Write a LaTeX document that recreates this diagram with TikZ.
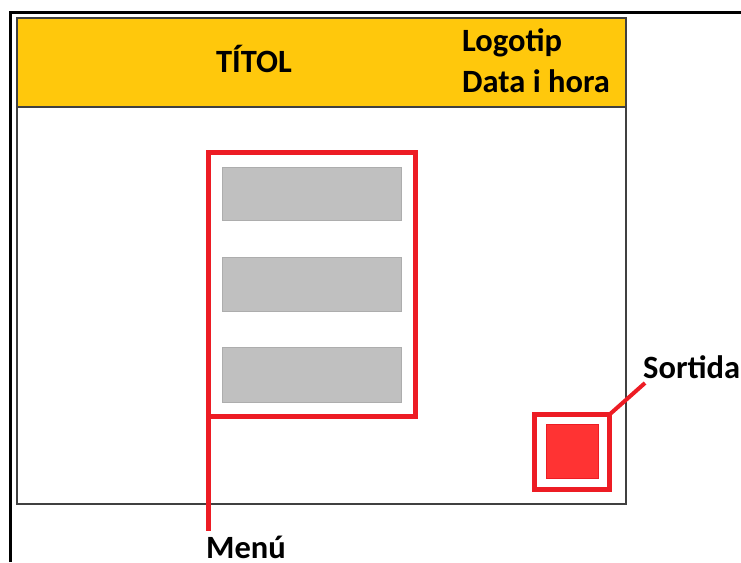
\documentclass[tikz,border=0pt]{standalone}
\usepackage{fontspec}
\setmainfont{Carlito}
\definecolor{hdryellow}{HTML}{FFC80C}
\definecolor{boxred}{HTML}{ED1C24}
\definecolor{exitfill}{HTML}{FF3333}
\definecolor{framegray}{HTML}{404040}
\definecolor{itemgray}{HTML}{C0C0C0}
\tikzset{
  lbl/.style={font=\fontsize{32.5}{38}\selectfont\bfseries, inner sep=0pt, anchor=base west, text=black},
  redframe/.style={draw=boxred, line width=5pt, inner sep=0pt, outer sep=0pt},
  itembox/.style={fill=itemgray, draw=itemgray!90!black, line width=0.6pt},
  redline/.style={draw=boxred, line width=4.5pt}
}
\begin{document}
\begin{tikzpicture}[x=1pt,y=-1pt]
\useasboundingbox (0,0) rectangle (741,562);
% outer frame (top and left edges)
\draw[line width=3pt, black] (10.5,562) -- (10.5,12) -- (741,12);
% header
\fill[hdryellow] (17,18) rectangle (626,107);
\draw[framegray, line width=1.6pt] (17,107) -- (626,107);
\draw[framegray, line width=1.6pt] (17,18) rectangle (626,504);
% header texts
\node[lbl, anchor=base] (title) at (254,72) {TÍTOL};
\node[lbl] (logo) at (462,51) {Logotip};
\node[lbl] (date) at (462,92) {Data i hora};
% menu
\draw[itembox] (222,167) rectangle (401,220);
\draw[itembox] (222,257) rectangle (401,311);
\draw[itembox] (222,347) rectangle (401,402);
\node[redframe, minimum width=207pt, minimum height=264pt] (menubox) at (312,284.5) {};
\node[lbl] (menulbl) at (206,558) {Menú};
\coordinate (menuend) at (208.5,531);
\draw[redline, line width=5pt] (menubox.south west) -- (menuend);
% exit button
\node[redframe, minimum width=75pt, minimum height=75pt] (exitbox) at (572,452) {};
\node[fill=exitfill, draw=boxred, line width=1pt, minimum width=52pt, minimum height=54pt, inner sep=0pt] (exitbtn) at (572,451) {};
\node[lbl] (exitlbl) at (643,378) {Sortida};
\coordinate (exitend) at (645,383);
\draw[redline, line width=4pt] (exitbox.north east) -- (exitend);
\end{tikzpicture}
\end{document}
